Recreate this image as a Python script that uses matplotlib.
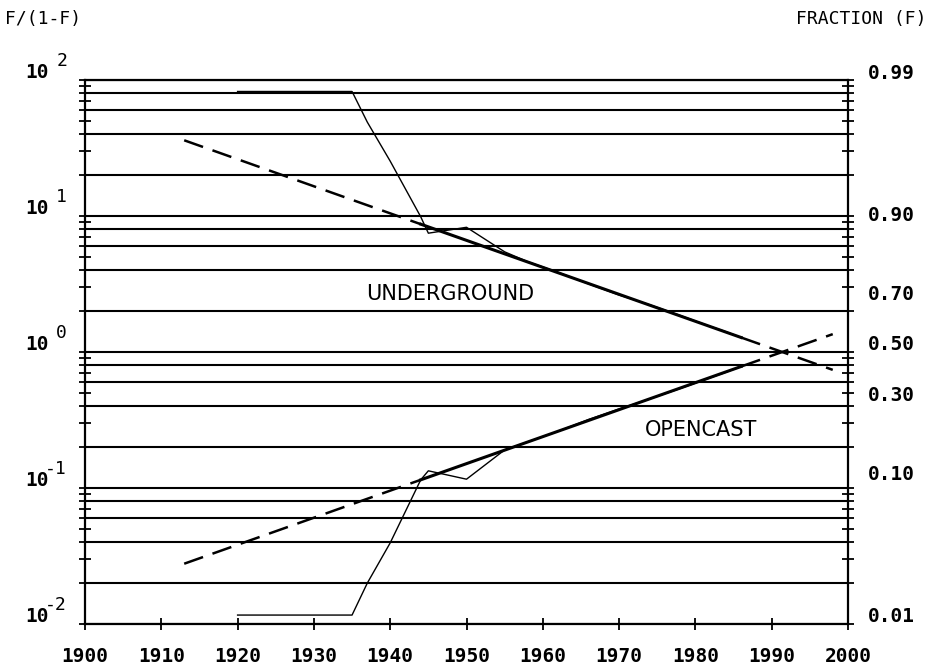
import numpy as np
import matplotlib
matplotlib.use("Agg")
import matplotlib.pyplot as plt
from matplotlib.ticker import LogLocator, NullFormatter


# DATA (fraction of output)

years = [1920, 1935, 1937, 1940, 1944, 1945, 1950, 1955, 1958, 1962,
         1966, 1970, 1974, 1978, 1982, 1984, 1986]

F_under = [0.988, 0.988, 0.980, 0.962, 0.908, 0.882, 0.892, 0.845, 0.822, 0.794,
           0.760, 0.724, 0.690, 0.650, 0.606, 0.585, 0.561]

F_open = [0.0115, 0.0115, 0.0196, 0.038, 0.103, 0.118, 0.104, 0.160, 0.179, 0.207,
          0.242, 0.276, 0.311, 0.350, 0.393, 0.415, 0.439]

# fitted logistic trend (start, start of fit, end of fit, end of extrapolation)
trend_years = [1913, 1944, 1986, 1998]
trend_under = [0.973, 0.897, 0.561, 0.425]
trend_open = [0.027, 0.103, 0.439, 0.575]

# axis labels
x_ticks = list(range(1900, 2001, 10))
decades = [-2, -1, 0, 1, 2]
frac_labels = [0.99, 0.90, 0.70, 0.50, 0.30, 0.10, 0.01]
grid_vals = [m * 10.0**k for k in [-2, -1, 0, 1] for m in [1, 2, 4, 6, 8]] + [100]


def odds(f):
    f = np.asarray(f)
    return f / (1 - f)


mono = "DejaVu Sans Mono"

fig = plt.figure(figsize=(9.32, 6.72), dpi=100)
ax = fig.add_axes([85/932, 1 - 624/672, (848 - 85)/932, (624 - 80)/672])

ax.set_yscale("log")
ax.set_xlim(1900, 2000)
ax.set_ylim(0.01, 100)

# horizontal grid
for g in grid_vals:
    ax.axhline(g, color="black", linewidth=1.5, zorder=1)

# trend lines: dashed extrapolation, solid over the fit period
for tr in [trend_under, trend_open]:
    ax.plot(trend_years[:2], odds(tr[:2]), color="black", lw=1.8,
            dashes=(8, 4), zorder=2)
    ax.plot(trend_years[2:], odds(tr[2:]), color="black", lw=1.8,
            dashes=(8, 4), zorder=2)
    ax.plot(trend_years[1:3], odds(tr[1:3]), color="black", lw=2.2, zorder=2)

# observed shares
ax.plot(years, odds(F_under), color="black", lw=1.0, zorder=3)
ax.plot(years, odds(F_open), color="black", lw=1.0, zorder=3)

ax.text(1947.8, 2.67, "UNDERGROUND", fontsize=15, ha="center", va="center",
        family="DejaVu Sans")
ax.text(1980.7, 0.267, "OPENCAST", fontsize=15, ha="center", va="center",
        family="DejaVu Sans")

# ticks
ax.set_xticks(x_ticks)
ax.set_xticklabels([str(y) for y in x_ticks], family=mono, fontsize=14,
                   fontweight="bold")
ax.yaxis.set_major_locator(LogLocator(base=10, numticks=10))
ax.yaxis.set_minor_locator(LogLocator(base=10, subs=np.arange(2, 10), numticks=20))
ax.yaxis.set_major_formatter(NullFormatter())
ax.yaxis.set_minor_formatter(NullFormatter())
ax.tick_params(axis="both", which="both", direction="inout", width=1.3,
               colors="black", right=True)
ax.tick_params(axis="y", which="major", length=9)
ax.tick_params(axis="y", which="minor", length=8)
ax.tick_params(axis="x", length=9, pad=12)

for s in ax.spines.values():
    s.set_linewidth(1.6)

# left labels 10^k
for k in decades:
    ax.annotate("10", xy=(0, 10.0**k), xycoords=("axes fraction", "data"),
                xytext=(-60, 8), textcoords="offset pixels",
                ha="left", va="center", family=mono, fontsize=14,
                fontweight="bold")
    ax.annotate(str(k), xy=(0, 10.0**k), xycoords=("axes fraction", "data"),
                xytext=(-18, 19), textcoords="offset pixels",
                ha="right", va="center", family=mono, fontsize=13)

# right labels: fraction F
for f in frac_labels:
    ax.annotate("%.2f" % f, xy=(1, f / (1 - f)), xycoords=("axes fraction", "data"),
                xytext=(20, 7), textcoords="offset pixels",
                ha="left", va="center", family=mono, fontsize=14,
                fontweight="bold")

fig.text(5/932, 1 - 19/672, "F/(1-F)", family=mono, fontsize=13, va="center")
fig.text(927/932, 1 - 19/672, "FRACTION (F)", family=mono, fontsize=13,
         va="center", ha="right")

fig.savefig("out.png", dpi=100)
